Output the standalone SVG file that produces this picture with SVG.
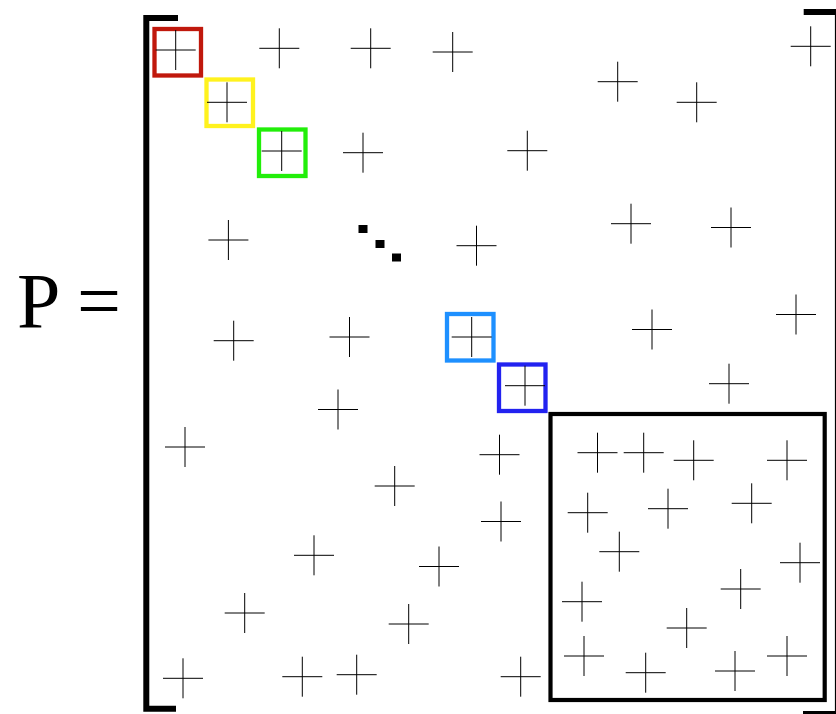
<svg xmlns="http://www.w3.org/2000/svg" xmlns:xlink="http://www.w3.org/1999/xlink" width="836" height="714" viewBox="0 0 836 714">
<style>
.c{stroke:#000;stroke-width:1;fill:none}
.hl{fill:none;stroke-width:4.3}
.br{fill:none;stroke:#000;stroke-width:6;stroke-linejoin:miter}
.dot{fill:#000}
.lbl{font-family:"Liberation Serif","Times New Roman",serif;font-size:78px;fill:#000}
</style>
<defs>
<g id="x"><path class="c" d="M-20,0H20M0,-20V20"/></g>
</defs>
<rect width="836" height="714" fill="#fff"/>
<g id="label"><text class="lbl" x="17" y="327">P =</text></g>
<g id="brackets">
<path class="br" d="M178,18H146.3V708.7H176"/>
<rect x="803.7" y="9" width="32.3" height="6" fill="#000"/>
<line x1="835.5" y1="9" x2="835.5" y2="714" stroke="#000" stroke-width="1.2"/>
<rect x="803" y="711" width="33" height="3" fill="#000"/>
</g>
<g id="block"><rect x="550.5" y="414" width="274.2" height="286" fill="none" stroke="#000" stroke-width="4.2"/></g>
<g id="diag">
<rect class="hl" x="154.5" y="29" width="46.5" height="46.5" stroke="#c0180c"/>
<rect class="hl" x="206.5" y="79.5" width="46.5" height="46.5" stroke="#fff21e"/>
<rect class="hl" x="259" y="129.5" width="46.5" height="46.5" stroke="#22ee0a"/>
<rect class="hl" x="447" y="314" width="46.5" height="46.5" stroke="#1e90ff"/>
<rect class="hl" x="499" y="364.5" width="46.5" height="46.5" stroke="#2222f0"/>
<rect class="dot" x="358.5" y="225" width="9" height="8"/>
<rect class="dot" x="375.5" y="240" width="9" height="8"/>
<rect class="dot" x="392" y="253.5" width="9" height="8"/>
</g>
<g id="entries">
<use xlink:href="#x" x="175.7" y="50"/>
<use xlink:href="#x" x="227" y="102.3"/>
<use xlink:href="#x" x="281.7" y="151"/>
<use xlink:href="#x" x="471.7" y="337"/>
<use xlink:href="#x" x="525" y="385.7"/>
<use xlink:href="#x" x="279.3" y="48.3"/>
<use xlink:href="#x" x="370.7" y="48.3"/>
<use xlink:href="#x" x="452.7" y="52"/>
<use xlink:href="#x" x="810.7" y="46.3"/>
<use xlink:href="#x" x="617.7" y="81.7"/>
<use xlink:href="#x" x="696.7" y="102.3"/>
<use xlink:href="#x" x="363" y="152.7"/>
<use xlink:href="#x" x="527.3" y="150.7"/>
<use xlink:href="#x" x="228.4" y="240"/>
<use xlink:href="#x" x="476.5" y="245.7"/>
<use xlink:href="#x" x="631" y="223.7"/>
<use xlink:href="#x" x="731" y="227.5"/>
<use xlink:href="#x" x="233.7" y="340.7"/>
<use xlink:href="#x" x="349.5" y="337"/>
<use xlink:href="#x" x="652" y="329.5"/>
<use xlink:href="#x" x="796" y="314.5"/>
<use xlink:href="#x" x="729" y="383.7"/>
<use xlink:href="#x" x="338" y="409.5"/>
<use xlink:href="#x" x="185" y="447"/>
<use xlink:href="#x" x="499.5" y="454.7"/>
<use xlink:href="#x" x="394.7" y="486"/>
<use xlink:href="#x" x="501" y="521.5"/>
<use xlink:href="#x" x="314" y="555.3"/>
<use xlink:href="#x" x="439" y="566.5"/>
<use xlink:href="#x" x="244.7" y="613"/>
<use xlink:href="#x" x="408.7" y="624"/>
<use xlink:href="#x" x="183" y="678.3"/>
<use xlink:href="#x" x="302.3" y="676.7"/>
<use xlink:href="#x" x="356.7" y="674.7"/>
<use xlink:href="#x" x="520.7" y="676.7"/>
<use xlink:href="#x" x="597.5" y="452.7"/>
<use xlink:href="#x" x="643.7" y="452.7"/>
<use xlink:href="#x" x="693.7" y="460.3"/>
<use xlink:href="#x" x="787" y="460.3"/>
<use xlink:href="#x" x="587.7" y="512.7"/>
<use xlink:href="#x" x="668" y="508.7"/>
<use xlink:href="#x" x="751.7" y="503.3"/>
<use xlink:href="#x" x="619.3" y="551.7"/>
<use xlink:href="#x" x="800" y="562.7"/>
<use xlink:href="#x" x="582" y="601.7"/>
<use xlink:href="#x" x="740.7" y="589"/>
<use xlink:href="#x" x="686.7" y="628"/>
<use xlink:href="#x" x="584" y="656"/>
<use xlink:href="#x" x="645.7" y="672.7"/>
<use xlink:href="#x" x="735" y="671"/>
<use xlink:href="#x" x="787" y="656"/>
</g>
</svg>
